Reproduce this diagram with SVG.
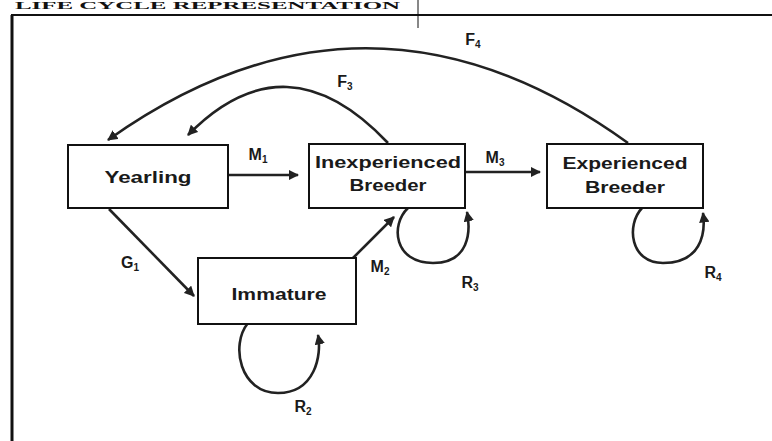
<svg xmlns="http://www.w3.org/2000/svg" width="772" height="441" viewBox="0 0 772 441">
<style>
.box{fill:#fff;stroke:#111;stroke-width:2}
.nt{font-family:"Liberation Sans",Arial,sans-serif;font-weight:bold;font-size:17px;fill:#1a1a1a;text-anchor:middle}
.lb{font-family:"Liberation Sans",Arial,sans-serif;font-weight:bold;font-size:16px;fill:#1a1a1a;text-anchor:middle}
.sub{font-size:10px}
.ed{fill:none;stroke:#222;stroke-width:2.6}
.frame{stroke:#111;fill:none}
</style>
<defs>
<marker id="ah" viewBox="0 0 10 10" refX="9" refY="5" markerWidth="4" markerHeight="4" orient="auto" markerUnits="strokeWidth">
<path d="M0,0 L10,5 L0,10 z" fill="#222"/>
</marker>
</defs>
<rect width="772" height="441" fill="#fff"/>
<g id="header">
<text x="15" y="9" font-family="Liberation Serif,serif" font-weight="bold" font-size="10" textLength="385" lengthAdjust="spacingAndGlyphs" fill="#111">LIFE CYCLE REPRESENTATION</text>
<line class="frame" x1="12" y1="15" x2="12" y2="441" stroke-width="3"/>
<line class="frame" x1="11" y1="15" x2="772" y2="15" stroke-width="2"/>
<line class="frame" x1="418" y1="0" x2="418" y2="28" stroke-width="1"/>
</g>
<g id="connectors">
<path class="ed" d="M228,175 L298,175" marker-end="url(#ah)"/>
<path class="ed" d="M465,172 L540,172" marker-end="url(#ah)"/>
<path class="ed" d="M628,143 Q368,-45 108,140" marker-end="url(#ah)"/>
<path class="ed" d="M388,143 Q286,35 188,135" marker-end="url(#ah)"/>
<path class="ed" d="M109,209 L194,296" marker-end="url(#ah)"/>
<path class="ed" d="M352,259 L394,217" marker-end="url(#ah)"/>
<path class="ed" d="M408,208 C390,225 394,263 433,263 C469,263 471,232 467,212" marker-end="url(#ah)"/>
<path class="ed" d="M642,208 C626,225 630,263 663,263 C700,263 706,235 703,213" marker-end="url(#ah)"/>
<path class="ed" d="M248,323 C230,345 240,393 278,393 C315,393 322,355 318,335" marker-end="url(#ah)"/>
</g>
<g id="yearling">
<rect class="box" x="68" y="145" width="160" height="63"/>
<text class="nt" x="148" y="183" textLength="87" lengthAdjust="spacingAndGlyphs">Yearling</text>
</g>
<g id="inexperienced-breeder">
<rect class="box" x="309" y="144" width="156" height="64"/>
<text class="nt" x="388" y="168" textLength="146" lengthAdjust="spacingAndGlyphs">Inexperienced</text>
<text class="nt" x="388" y="191" textLength="77" lengthAdjust="spacingAndGlyphs">Breeder</text>
</g>
<g id="experienced-breeder">
<rect class="box" x="547" y="144" width="156" height="64"/>
<text class="nt" x="625" y="169" textLength="125" lengthAdjust="spacingAndGlyphs">Experienced</text>
<text class="nt" x="625" y="193" textLength="80" lengthAdjust="spacingAndGlyphs">Breeder</text>
</g>
<g id="immature">
<rect class="box" x="198" y="258" width="158" height="66"/>
<text class="nt" x="279" y="300" font-size="15" textLength="95" lengthAdjust="spacingAndGlyphs">Immature</text>
</g>
<g id="labels">
<text class="lb" x="258" y="160">M<tspan class="sub" dy="3">1</tspan></text>
<text class="lb" x="495" y="163">M<tspan class="sub" dy="3">3</tspan></text>
<text class="lb" x="345" y="87">F<tspan class="sub" dy="3">3</tspan></text>
<text class="lb" x="473" y="45">F<tspan class="sub" dy="3">4</tspan></text>
<text class="lb" x="130" y="268">G<tspan class="sub" dy="3">1</tspan></text>
<text class="lb" x="380" y="272">M<tspan class="sub" dy="3">2</tspan></text>
<text class="lb" x="470" y="288">R<tspan class="sub" dy="3">3</tspan></text>
<text class="lb" x="713" y="278">R<tspan class="sub" dy="3">4</tspan></text>
<text class="lb" x="303" y="412">R<tspan class="sub" dy="3">2</tspan></text>
</g>
</svg>
